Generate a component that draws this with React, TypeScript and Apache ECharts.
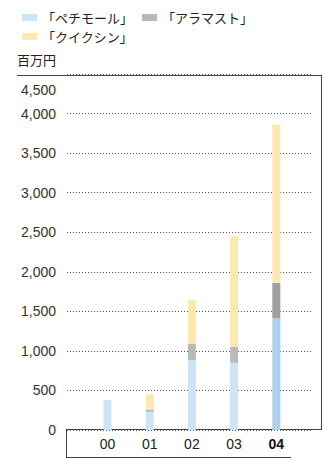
import React, { useEffect, useRef } from 'react';
import * as echarts from 'echarts';

const years = ['00', '01', '02', '03', '04'];
const highlightYear = '04';
const seriesNames = ['「ペチモール」', '「アラマスト」', '「クイクシン」'];
const petimol = [380, 230, 880, 850, 1410];
const aramast = [0, 30, 210, 200, 450];
const kuikushin = [0, 190, 550, 1400, 2000];
const yTicks = [0, 500, 1000, 1500, 2000, 2500, 3000, 3500, 4000, 4500];
const unitLabel = '百万円';

const baseColors = ['#cde4f7', '#b9b9b9', '#fee9ad'];
const hiColors = ['#acd2ef', '#9f9f9f', '#fee9ad'];

const JP = '"Noto Sans CJK JP", "Noto Sans", sans-serif';
const NUM = '"Liberation Sans", Arial, sans-serif';

const fmt = (v: number) => v.toLocaleString('en-US');

export default function App() {
  const ref = useRef<HTMLDivElement>(null);
  useEffect(() => {
    document.body.style.margin = '0';
    if (!ref.current) return;
    const chart = echarts.init(ref.current, undefined, { renderer: 'svg' });
    const yMin = yTicks[0];
    const yMax = yTicks[yTicks.length - 1];
    const yStep = yTicks[1] - yTicks[0];
    const seriesData = [petimol, aramast, kuikushin];
    const top = 74;
    const bottom = 28;
    const legendText = { fontSize: 13, fontFamily: JP, color: '#222' };
    chart.setOption({
      animation: false,
      legend: [
        {
          left: 17,
          top: 6,
          itemWidth: 15,
          itemHeight: 7,
          itemGap: 9,
          icon: 'rect',
          data: [seriesNames[0], seriesNames[1]],
          textStyle: legendText,
        },
        {
          left: 17,
          top: 25,
          itemWidth: 15,
          itemHeight: 7,
          icon: 'rect',
          data: [seriesNames[2]],
          textStyle: legendText,
        },
      ],
      grid: [
        { left: 67, right: 12, top, bottom },
        { left: 86.4, width: 211, top, bottom },
      ],
      xAxis: [
        { gridIndex: 0, type: 'value', show: false },
        {
          gridIndex: 1,
          type: 'category',
          data: years,
          axisLine: { show: false },
          axisTick: { show: false },
          axisLabel: {
            interval: 0,
            margin: 7,
            fontSize: 14,
            fontFamily: NUM,
            color: '#222',
            formatter: (v: string) => (v === highlightYear ? `{b|${v}}` : v),
            rich: { b: { fontWeight: 'bold', fontSize: 14, fontFamily: NUM, color: '#111' } },
          },
        },
      ],
      yAxis: [
        {
          gridIndex: 0,
          type: 'value',
          min: yMin,
          max: yMax,
          interval: yStep,
          axisLine: { show: false },
          axisTick: { show: false },
          axisLabel: {
            margin: 11,
            fontSize: 14,
            fontFamily: NUM,
            color: '#333',
            formatter: (v: number) => (v === yMax ? '' : fmt(v)),
          },
          splitLine: {
            show: true,
            lineStyle: { color: '#555', type: [1, 2], width: 1 },
          },
        },
        {
          gridIndex: 1,
          type: 'value',
          min: yMin,
          max: yMax,
          interval: yStep,
          show: false,
          splitLine: { show: false },
        },
      ],
      series: seriesData.map((arr, si) => ({
        name: seriesNames[si],
        type: 'bar',
        stack: 'total',
        xAxisIndex: 1,
        yAxisIndex: 1,
        barWidth: 8,
        itemStyle: { color: baseColors[si] },
        data: arr.map((v, i) =>
          years[i] === highlightYear ? { value: v, itemStyle: { color: hiColors[si] } } : v
        ),
      })),
      graphic: [
        {
          type: 'text',
          left: 17,
          top: 53,
          style: { text: unitLabel, fontSize: 13, fontFamily: JP, fill: '#222' },
        },
        {
          type: 'text',
          x: 56,
          y: 90,
          style: {
            text: fmt(yMax),
            fontSize: 14,
            fontFamily: NUM,
            fill: '#333',
            align: 'right',
            verticalAlign: 'middle',
          },
        },
        { type: 'line', shape: { x1: 17, y1: 75.5, x2: 321.5, y2: 75.5 }, style: { stroke: '#444', lineWidth: 1 } },
        { type: 'line', shape: { x1: 321.5, y1: 75, x2: 321.5, y2: 430 }, style: { stroke: '#444', lineWidth: 1 } },
        { type: 'line', shape: { x1: 66, y1: 429.5, x2: 322, y2: 429.5 }, style: { stroke: '#444', lineWidth: 1 } },
        { type: 'line', shape: { x1: 66.5, y1: 429, x2: 66.5, y2: 458 }, style: { stroke: '#444', lineWidth: 1 } },
        { type: 'line', shape: { x1: 66, y1: 457.5, x2: 291, y2: 457.5 }, style: { stroke: '#444', lineWidth: 1 } },
      ],
    });
    return () => chart.dispose();
  }, []);
  return <div ref={ref} style={{ width: 324, height: 458 }} />;
}
